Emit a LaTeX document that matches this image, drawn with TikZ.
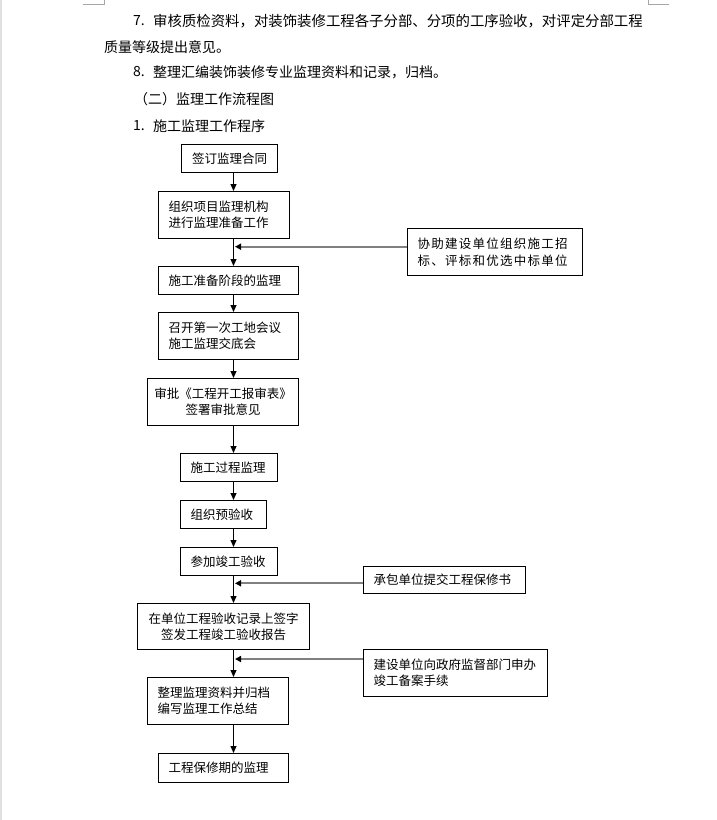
\documentclass[tikz,border=0pt]{standalone}
\usepackage{fontspec}
\newfontfamily\cjk{Noto Sans CJK SC}
\newfontfamily\cjkls[LetterSpace=10]{Noto Sans CJK SC}
\usetikzlibrary{arrows.meta}
\newcommand\boxfont{\cjk\fontsize{12.5}{16}\selectfont}
\newcommand\boxlsfont{\cjkls\fontsize{12.5}{16.5}\selectfont}
\newcommand\parafont{\cjk\fontsize{14}{14}\selectfont}
\newcommand\parawidefont{\cjk\fontsize{14.4}{14}\selectfont}
\tikzset{
  box/.style={draw=black, line width=1pt, inner xsep=10pt, inner ysep=0pt,
              font=\boxfont, anchor=north west},
  lbox/.style={box, align=left},
  cbox/.style={box, inner xsep=5pt, align=center},
  arr/.style={line width=1pt, -{Triangle[length=7pt,width=6pt]}},
  sarr/.style={draw=black!50, line width=2pt, -{Triangle[length=6pt,width=6pt,color=black]}},
  para/.style={font=\parafont, anchor=west, inner sep=0pt},
  cornermark/.style={draw=black!35, line width=1pt},
}
\begin{document}
\begin{tikzpicture}[x=1pt,y=-1pt]
\useasboundingbox[fill=white] (0,0) rectangle (717,820);
% page edge and corner marks
\fill[black!12] (0,0) rectangle (2,820);
\draw[cornermark] (83,4) -- (104,4) -- (104,0);
\draw[cornermark] (669,4) -- (648,4) -- (648,0);

% paragraph text
\node[para] (n7) at (133,21) {7.};
\node[para, font=\parawidefont] (t7) at (153,21) {审核质检资料，对装饰装修工程各子分部、分项的工序验收，对评定分部工程};
\node[para] (t7b) at (104,47) {质量等级提出意见。};
\node[para] (n8) at (133,72) {8.};
\node[para] (t8) at (153,72) {整理汇编装饰装修专业监理资料和记录，归档。};
\node[para] (h2) at (134,99) {（二）监理工作流程图};
\node[para] (n1) at (133,126) {1.};
\node[para] (h1) at (153,126) {施工监理工作程序};

% main column
\coordinate (mx) at (233.5,0);
\node[cbox, text width=86pt, minimum height=28pt] (b1) at (181,144) {签订监理合同};
\node[lbox, text width=111pt, minimum height=47pt] (b2) at (158,191) {组织项目监理机构\\进行监理准备工作};
\node[lbox, text width=120pt, minimum height=28pt] (b3) at (158,266) {施工准备阶段的监理};
\node[lbox, text width=120pt, minimum height=47pt] (b4) at (158,312) {召开第一次工地会议\\施工监理交底会};
\node[cbox, text width=141pt, minimum height=47pt] (b5) at (147,378) {审批《工程开工报审表》\\签署审批意见};
\node[lbox, text width=77pt, minimum height=28pt] (b6) at (180,453) {施工过程监理};
\node[lbox, text width=66pt, minimum height=28pt] (b7) at (180,500) {组织预验收};
\node[lbox, text width=77pt, minimum height=28pt] (b8) at (180,547) {参加竣工验收};
\node[cbox, text width=162pt, minimum height=46pt] (b9) at (137,603) {在单位工程验收记录上签字\\签发工程竣工验收报告};
\node[lbox, text width=121pt, minimum height=47pt] (b10) at (147,677) {整理监理资料并归档\\编写监理工作总结};
\node[lbox, text width=110pt, minimum height=29pt] (b11) at (158,753) {工程保修期的监理};

% side boxes
\node[lbox, font=\boxlsfont, text width=155pt, minimum height=47pt] (s1) at (407,228) {协助建设单位组织施工招\\标、评标和优选中标单位};
\node[lbox, text width=142pt, minimum height=27pt] (s2) at (363,566) {承包单位提交工程保修书};
\node[lbox, text width=164pt, minimum height=47pt] (s3) at (363,649) {建设单位向政府监督部门申办\\竣工备案手续};

% vertical connectors
\draw[arr] (b1.south -| mx) -- (b2.north -| mx);
\draw[arr] (b2.south -| mx) -- (b3.north -| mx);
\draw[arr] (b3.south -| mx) -- (b4.north -| mx);
\draw[arr] (b4.south -| mx) -- (b5.north -| mx);
\draw[arr] (b5.south -| mx) -- (b6.north -| mx);
\draw[arr] (b6.south -| mx) -- (b7.north -| mx);
\draw[arr] (b7.south -| mx) -- (b8.north -| mx);
\draw[arr] (b8.south -| mx) -- (b9.north -| mx);
\draw[arr] (b9.south -| mx) -- (b10.north -| mx);
\draw[arr] (b10.south -| mx) -- (b11.north -| mx);

% side connectors
\coordinate (j1) at (235,246.7);
\coordinate (j2) at (235,583.3);
\coordinate (j3) at (235,659);
\draw[sarr] (s1.west |- j1) -- (j1);
\draw[sarr] (s2.west |- j2) -- (j2);
\draw[sarr] (s3.west |- j3) -- (j3);
\end{tikzpicture}
\end{document}
